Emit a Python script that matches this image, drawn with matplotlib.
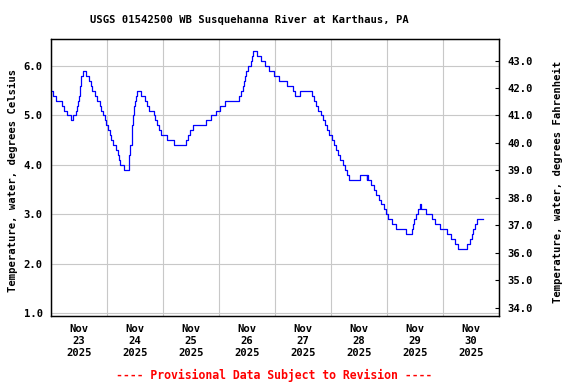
import matplotlib
matplotlib.use('Agg')
import matplotlib.pyplot as plt
import matplotlib.dates as mdates
import numpy as np
import pandas as pd

plt.rcParams['font.family'] = 'DejaVu Sans Mono'
plt.rcParams['font.weight'] = 'bold'
plt.rcParams['font.size'] = 7.6

# hours since 2025-11-23 00:00 where the reading changes, and the new reading (deg C)
start = pd.Timestamp('2025-11-23 00:00')
hours = [0.0, 0.75, 2.25, 4.5, 5.75, 7.0, 8.75, 9.5, 10.5, 11.25, 11.5, 12.0, 12.25, 12.5,
         12.75, 13.0, 13.5, 15.0, 16.25, 17.0, 17.75, 18.75, 19.75, 21.0, 21.5, 22.25, 23.0,
         23.75, 24.5, 25.25, 25.75, 26.5, 27.75, 28.5, 29.25, 29.75, 31.25, 33.25, 33.5, 34.0,
         34.5, 34.75, 35.25, 35.75, 36.0, 36.5, 37.0, 38.5, 40.25, 41.0, 42.0, 44.0, 44.75,
         45.5, 46.25, 47.0, 49.5, 52.75, 57.75, 58.5, 59.5, 61.0, 66.25, 68.5, 70.5, 72.5,
         74.75, 80.75, 81.25, 82.25, 82.75, 83.25, 83.5, 84.5, 85.5, 86.25, 86.75, 88.25, 90.0,
         91.75, 93.5, 95.75, 97.75, 101.0, 103.5, 104.75, 106.75, 112.0, 112.75, 113.5, 114.5,
         115.5, 116.5, 117.25, 118.25, 119.0, 120.25, 121.25, 122.0, 123.0, 124.0, 125.25,
         126.0, 127.0, 127.75, 132.5, 135.25, 135.5, 136.0, 137.0, 138.5, 139.25, 140.5, 141.5,
         142.5, 143.5, 144.5, 146.25, 148.0, 152.0, 154.75, 155.25, 155.75, 156.5, 157.25,
         158.0, 158.75, 160.75, 163.25, 164.5, 166.5, 169.75, 171.5, 173.25, 174.5, 178.25,
         179.5, 180.25, 181.0, 181.75, 182.75, 185.0]
temp_c = [5.5, 5.4, 5.3, 5.2, 5.1, 5.0, 4.9, 5.0, 5.1, 5.2, 5.3, 5.4, 5.5, 5.6,
          5.7, 5.8, 5.9, 5.8, 5.7, 5.6, 5.5, 5.4, 5.3, 5.2, 5.1, 5.0, 4.9,
          4.8, 4.7, 4.6, 4.5, 4.4, 4.3, 4.2, 4.1, 4.0, 3.9, 4.0, 4.2, 4.4,
          4.6, 4.8, 5.0, 5.2, 5.3, 5.4, 5.5, 5.4, 5.3, 5.2, 5.1, 5.0, 4.9,
          4.8, 4.7, 4.6, 4.5, 4.4, 4.5, 4.6, 4.7, 4.8, 4.9, 5.0, 5.1, 5.2,
          5.3, 5.4, 5.5, 5.6, 5.7, 5.8, 5.9, 6.0, 6.1, 6.2, 6.3, 6.2, 6.1,
          6.0, 5.9, 5.8, 5.7, 5.6, 5.5, 5.4, 5.5, 5.4, 5.3, 5.2, 5.1,
          5.0, 4.9, 4.8, 4.7, 4.6, 4.5, 4.4, 4.3, 4.2, 4.1, 4.0,
          3.9, 3.8, 3.7, 3.8, 3.7, 3.8, 3.7, 3.6, 3.5, 3.4, 3.3, 3.2,
          3.1, 3.0, 2.9, 2.8, 2.7, 2.6, 2.7, 2.8, 2.9, 3.0, 3.1,
          3.2, 3.1, 3.0, 2.9, 2.8, 2.7, 2.6, 2.5, 2.4, 2.3, 2.4,
          2.5, 2.6, 2.7, 2.8, 2.9, 2.9]

times = start + pd.to_timedelta(hours, unit='h')

fig = plt.figure(figsize=(5.76, 3.84), dpi=100)
ax = fig.add_axes([51 / 576, 1 - 316 / 384, 448 / 576, 276.7 / 384])
ax.step(times, temp_c, where='post', color='#0000ff', lw=0.9, zorder=3)

ax.set_xlim(start, start + pd.Timedelta(days=8))
ylo, yhi = 0.945, 6.54
ax.set_ylim(ylo, yhi)
ax.set_yticks(np.arange(1, 7))
ax.yaxis.set_major_formatter('{x:.1f}')
ax.xaxis.set_major_locator(mdates.HourLocator(byhour=12))
ax.xaxis.set_major_formatter(mdates.DateFormatter('%b\n%d\n%Y'))
ax.xaxis.set_minor_locator(mdates.DayLocator())
ax.set_axisbelow(True)
ax.grid(axis='x', which='minor', color='#c8c8c8', lw=0.8)
ax.grid(axis='y', which='major', color='#c8c8c8', lw=0.8)
ax.tick_params(axis='x', which='both', length=0, pad=6)
for lbl in ax.get_xticklabels():
    lbl.set_linespacing(1.25)
ax.tick_params(axis='y', length=0, pad=6)

ax2 = ax.twinx()
ax2.set_ylim(ylo * 1.8 + 32, yhi * 1.8 + 32)
ax2.set_yticks(np.arange(34, 44))
ax2.yaxis.set_major_formatter('{x:.1f}')
ax2.tick_params(direction='in', length=3, width=0.8, pad=6)

for a in (ax, ax2):
    for s in a.spines.values():
        s.set_linewidth(0.9)

fig.text(249 / 576, 1 - 20 / 384, 'USGS 01542500 WB Susquehanna River at Karthaus, PA',
         ha='center', va='center')
fig.text(13 / 576, 1 - 180 / 384, 'Temperature, water, degrees Celsius',
         rotation=90, ha='center', va='center')
fig.text(558 / 576, 1 - 182 / 384, 'Temperature, water, degrees Fahrenheit',
         rotation=90, ha='center', va='center')
fig.text(274 / 576, 1 - 375 / 384, '---- Provisional Data Subject to Revision ----',
         ha='center', va='center', color='#ff0000', fontsize=8.3)

fig.savefig('out.png', dpi=100)
